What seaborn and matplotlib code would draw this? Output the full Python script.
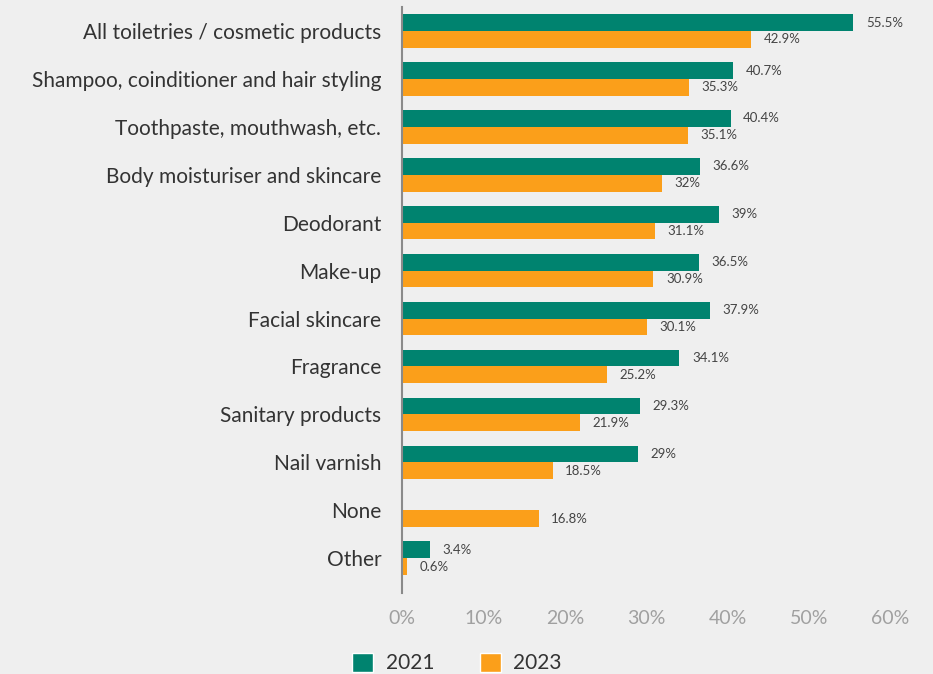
import matplotlib
matplotlib.use("Agg")
import matplotlib.pyplot as plt
import seaborn as sns
import pandas as pd
import numpy as np
from matplotlib.patches import Patch

categories = ["All toiletries / cosmetic products", "Shampoo, coinditioner and hair styling",
              "Toothpaste, mouthwash, etc.", "Body moisturiser and skincare", "Deodorant",
              "Make-up", "Facial skincare", "Fragrance", "Sanitary products", "Nail varnish",
              "None", "Other"]
values_2021 = [55.5, 40.7, 40.4, 36.6, 39, 36.5, 37.9, 34.1, 29.3, 29, np.nan, 3.4]
values_2023 = [42.9, 35.3, 35.1, 32, 31.1, 30.9, 30.1, 25.2, 21.9, 18.5, 16.8, 0.6]
years = ["2021", "2023"]
xticks = [0, 10, 20, 30, 40, 50, 60]

rows = []
for c, a, b in zip(categories, values_2021, values_2023):
    rows.append((c, "2021", a))
    rows.append((c, "2023", b))
df = pd.DataFrame(rows, columns=["category", "year", "value"]).dropna()

sns.set_theme(style="white")
plt.rcParams["font.family"] = ["Lato", "DejaVu Sans"]

bg = "#efefef"
teal = "#00836f"
orange = "#fb9f1a"

fig = plt.figure(figsize=(9.33, 6.74), dpi=100, facecolor=bg)
ax = fig.add_axes([0.431, 0.120, 0.523, 0.8696])
ax.set_facecolor(bg)

sns.barplot(data=df, y="category", x="value", hue="year", order=categories,
            hue_order=years, palette=[teal, orange], orient="h", width=0.7,
            ax=ax, legend=False, saturation=1, linewidth=0)

for cont in ax.containers:
    ax.bar_label(cont, fmt=lambda v: f"{v:g}%", padding=9, fontsize=9.5, color="#444444")

ax.set_xlim(0, 60)
ax.set_ylim(11.73, -0.5)
ax.set_xticks(xticks)
ax.set_xticklabels([f"{t}%" for t in xticks], fontsize=14, color="#a0a0a0")
ax.tick_params(axis="x", length=0, pad=12)
ax.tick_params(axis="y", length=0, pad=15, labelsize=15, labelcolor="#333333")
ax.set_xlabel("")
ax.set_ylabel("")
for s in ["top", "right", "bottom"]:
    ax.spines[s].set_visible(False)
ax.spines["left"].set_color("#8a8a8a")
ax.spines["left"].set_linewidth(1.5)

handles = [Patch(facecolor=teal, label="2021"), Patch(facecolor=orange, label="2023")]
fig.legend(handles=handles, loc="center", bbox_to_anchor=(0.490, 0.016), ncol=2,
           frameon=False, handlelength=1.0, handleheight=1.0,
           columnspacing=2.2, handletextpad=0.6, labelcolor="#333333",
           prop={"size": 15})

fig.savefig("out.png", dpi=100, facecolor=bg)
